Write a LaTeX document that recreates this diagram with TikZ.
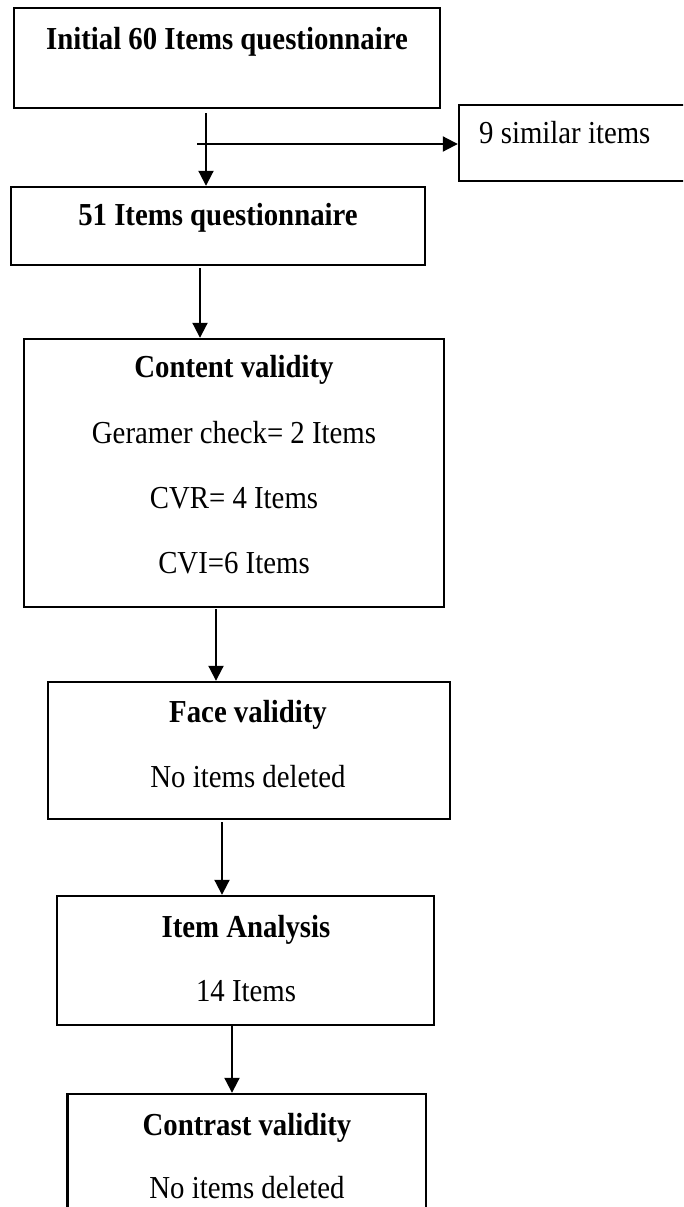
\documentclass[tikz,border=0pt]{standalone}
\usepackage{fontspec}
\setmainfont{Liberation Serif}
\newfontfamily\condserif[FakeStretch=0.9]{Liberation Serif}
\usetikzlibrary{arrows.meta,fit}
\begin{document}
\begin{tikzpicture}[x=1pt,y=-1pt,
  box/.style={draw=black,line width=2.4pt,inner sep=0pt},
  txt/.style={anchor=base,inner sep=0pt,font=\condserif\fontsize{32}{36}\selectfont},
  btxt/.style={anchor=base,inner sep=0pt,font=\condserif\fontsize{32}{36}\selectfont\bfseries},
  arr/.style={line width=2pt,-{Triangle[length=15pt,width=15pt]}}]
\useasboundingbox (0,0) rectangle (683,1207);
\clip (0,0) rectangle (683,1207);
% boxes
\node[box,fit={(14,8) (440,108)}] (b1) {};
\node[box,fit={(459,105) (740,181)}] (sim) {};
\node[box,fit={(11,187) (425,265)}] (b2) {};
\node[box,fit={(24,339) (444,607)}] (b3) {};
\node[box,fit={(48,682) (450,819)}] (b4) {};
\node[box,fit={(57,896) (434,1025)}] (b5) {};
\node[box,fit={(67.5,1094) (426,1260)}] (b6) {};
% texts
\node[btxt] (t1) at (227,49) {Initial 60 Items questionnaire};
\node[txt,anchor=base west] (ts) at (479,143) {9 similar items};
\node[btxt] (t2) at (218,225) {51 Items questionnaire};
\node[btxt] (t3a) at (234,377) {Content validity};
\node[txt] (t3b) at (234,443) {Geramer check= 2 Items};
\node[txt] (t3c) at (234,508) {CVR= 4 Items};
\node[txt] (t3d) at (234,573) {CVI=6 Items};
\node[btxt] (t4a) at (248,722) {Face validity};
\node[txt] (t4b) at (248,787) {No items deleted};
\node[btxt] (t5a) at (246,937) {Item Analysis};
\node[txt] (t5b) at (246,1001) {14 Items};
\node[btxt] (t6a) at (247,1135) {Contrast validity};
\node[txt] (t6b) at (247,1198) {No items deleted};
% connectors
\coordinate (s1) at (206,113);
\draw[arr] (s1) -- (s1 |- b2.north);
\coordinate (h1) at (197,144);
\draw[arr] (h1) -- (h1 -| sim.west);
\coordinate (s2) at (200,268);
\draw[arr] (s2) -- (s2 |- b3.north);
\coordinate (s3) at (216,609);
\draw[arr] (s3) -- (s3 |- b4.north);
\coordinate (s4) at (222,822);
\draw[arr] (s4) -- (s4 |- b5.north);
\coordinate (s5) at (232,1026);
\draw[arr] (s5) -- (s5 |- b6.north);
\end{tikzpicture}
\end{document}
